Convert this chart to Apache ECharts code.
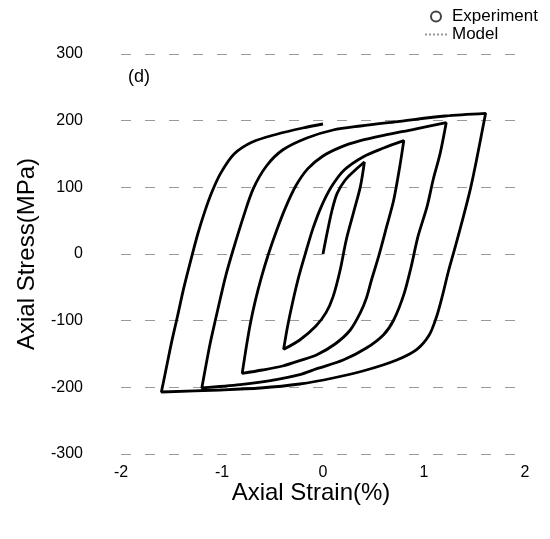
<!DOCTYPE html>
<html>
<head>
<meta charset="utf-8">
<script src="https://cdn.jsdelivr.net/npm/echarts/dist/echarts.min.js"></script>
<style>
  html, body { margin: 0; padding: 0; background: #fff; }
  #chart { width: 550px; height: 539px; }
</style>
</head>
<body>
<div id="chart"></div>
<script>
// strain (%) / stress (MPa) pairs, one array per branch of the test
var initialLoad = [[0, 0], [0.04, 31], [0.09, 66], [0.14, 91], [0.22, 111], [0.32, 126], [0.41, 138]];
var unload1 = [[0.41, 138], [0.37, 101], [0.30, 61], [0.23, 21], [0.17, -24], [0.10, -64], [0.03, -88], [-0.07, -108], [-0.23, -129], [-0.39, -143]];
var reload1 = [[-0.39, -143], [-0.35, -108], [-0.30, -72], [-0.24, -34], [-0.17, 3], [-0.10, 38], [-0.02, 70], [0.08, 100], [0.21, 126], [0.40, 146], [0.60, 159], [0.80, 170]];
var unload2 = [[0.80, 170], [0.76, 131], [0.70, 81], [0.63, 41], [0.55, -4], [0.48, -39], [0.43, -66], [0.37, -88], [0.27, -114], [0.12, -135], [-0.06, -151], [-0.23, -160], [-0.40, -168], [-0.60, -174], [-0.80, -179]];
var reload2 = [[-0.80, -179], [-0.76, -140], [-0.72, -105], [-0.67, -70], [-0.61, -35], [-0.54, 0], [-0.46, 35], [-0.37, 70], [-0.27, 102], [-0.15, 128], [0.00, 147], [0.17, 160], [0.37, 170], [0.60, 178], [0.90, 187], [1.22, 197]];
var unload3 = [[1.22, 197], [1.16, 151], [1.09, 111], [1.03, 71], [0.94, 26], [0.87, -21], [0.80, -61], [0.70, -99], [0.60, -121], [0.43, -141], [0.20, -159], [-0.06, -172], [-0.23, -181], [-0.52, -190], [-0.82, -196], [-1.20, -201]];
var reload3 = [[-1.20, -201], [-1.16, -168], [-1.12, -136], [-1.07, -102], [-1.02, -69], [-0.96, -31], [-0.89, 6], [-0.79, 55], [-0.69, 98], [-0.56, 132], [-0.40, 156], [-0.16, 174], [0.10, 186], [0.37, 192], [0.76, 199], [1.21, 207], [1.61, 211]];
var unload4 = [[1.61, 211], [1.52, 141], [1.46, 98], [1.39, 56], [1.31, 11], [1.24, -27], [1.18, -64], [1.12, -96], [1.05, -122], [0.93, -143], [0.73, -159], [0.43, -174], [0.10, -186], [-0.23, -195], [-0.62, -201], [-1.02, -204], [-1.60, -207]];
var reload4 = [[-1.60, -207], [-1.55, -170], [-1.50, -133], [-1.44, -93], [-1.38, -52], [-1.31, -10], [-1.24, 30], [-1.17, 64], [-1.10, 93], [-1.01, 122], [-0.88, 150], [-0.70, 168], [-0.45, 180], [-0.20, 189], [0.00, 195]];

var strainTicks = [-2, -1, 0, 1, 2];
var stressTicks = [-300, -200, -100, 0, 100, 200, 300];

var path = [].concat(initialLoad, unload1, reload1, unload2, reload2, unload3, reload3, unload4, reload4);

var font = 'Liberation Sans, Arial, sans-serif';
var chart = echarts.init(document.getElementById('chart'));

var option = {
    backgroundColor: '#fff',
    animation: false,
    textStyle: { fontFamily: font, color: '#000' },
    grid: { left: 121, right: 25, top: 54, bottom: 85 },
    legend: {
        orient: 'vertical',
        left: 419,
        top: 3,
        itemWidth: 22,
        itemHeight: 10,
        itemGap: 1,
        textStyle: { fontSize: 17, color: '#000', fontFamily: font },
        data: [
            { name: 'Experiment', icon: 'emptyCircle', itemStyle: { color: '#444', borderColor: '#444', borderWidth: 1 } },
            { name: 'Model', itemStyle: { opacity: 0 } }
        ]
    },
    graphic: [{
        type: 'text',
        left: 128,
        top: 68,
        style: { text: '(d)', font: '18px ' + font, fill: '#000' }
    }],
    xAxis: {
        type: 'value',
        min: strainTicks[0],
        max: strainTicks[strainTicks.length - 1],
        interval: 1,
        name: 'Axial Strain(%)',
        nameLocation: 'middle',
        nameGap: 27,
        nameMoveOverlap: false,
        nameTextStyle: { fontSize: 24, color: '#000', padding: [0, 24, 0, 0] },
        axisLine: { show: false },
        axisTick: { show: false },
        splitLine: { show: false },
        axisLabel: { fontSize: 16, color: '#000', margin: 11 }
    },
    yAxis: {
        type: 'value',
        min: stressTicks[0],
        max: stressTicks[stressTicks.length - 1],
        interval: 100,
        name: 'Axial Stress(MPa)',
        nameLocation: 'middle',
        nameGap: 82,
        nameMoveOverlap: false,
        nameTextStyle: { fontSize: 24, color: '#000' },
        axisLine: { show: false },
        axisTick: { show: false },
        splitLine: { show: true, lineStyle: { color: '#9a9a9a', width: 1, type: [10, 14] } },
        axisLabel: { fontSize: 16, color: '#000', margin: 38 }
    },
    series: [
        {
            name: 'Model',
            type: 'line',
            data: path,
            smooth: 0.3,
            symbol: 'none',
            z: 2,
            color: '#999',
            lineStyle: { color: '#999', width: 1.5, type: 'dotted' }
        },
        {
            name: 'Experiment',
            type: 'line',
            data: path,
            smooth: 0.3,
            symbol: 'none',
            z: 3,
            color: '#000',
            lineStyle: { color: '#000', width: 2.8 }
        }
    ]
};

chart.setOption(option);
</script>
</body>
</html>
